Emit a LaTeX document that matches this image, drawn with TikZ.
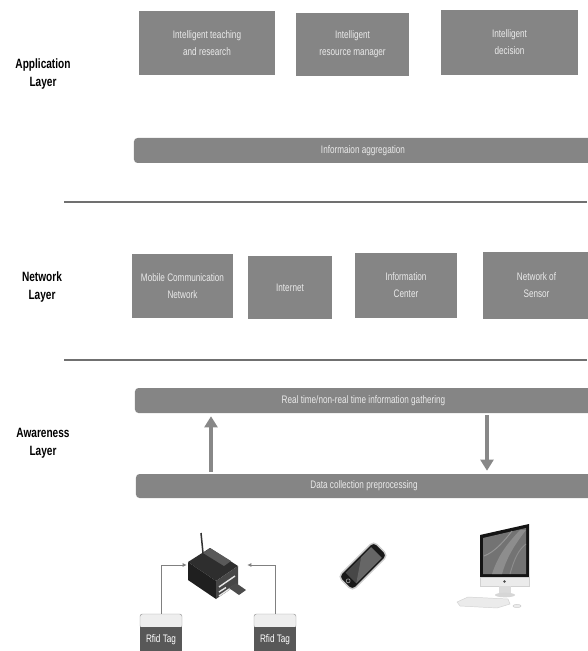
\documentclass[tikz,border=0pt]{standalone}
\usepackage{fontspec}
\setmainfont{Liberation Sans}
\newfontfamily\narrowfont[FakeStretch=0.75]{Liberation Sans}
\usetikzlibrary{arrows.meta}

\definecolor{boxgray}{RGB}{133,133,133}
\definecolor{boxtext}{RGB}{234,234,234}
\definecolor{rulegray}{RGB}{112,112,112}
\definecolor{flowgray}{RGB}{136,136,136}
\definecolor{tagdark}{RGB}{88,88,88}
\definecolor{taglight}{RGB}{238,238,238}

\tikzstyle{Layer} = [align=center, font=\narrowfont\fontsize{11.5}{15}\selectfont\bfseries]
\tikzstyle{Box} = [rectangle, fill=boxgray, align=center, text=boxtext, inner sep=0pt, font=\narrowfont\fontsize{9.3}{14.5}\selectfont]
\tikzstyle{Bar} = [Box, rounded corners=3pt, minimum height=0.75cm]
\tikzstyle{sepline} = [draw=rulegray, line width=1.6pt]
\tikzstyle{Flow} = [draw=flowgray, line width=4.2pt, -{Triangle[width=11pt,length=9.5pt]}]
\tikzstyle{TagTop} = [rectangle, draw=gray!80, fill=taglight, rounded corners=2pt, minimum width=1.26cm, minimum height=0.42cm, inner sep=0pt]
\tikzstyle{Tag} = [rectangle, fill=tagdark, text=white, minimum width=1.26cm, minimum height=0.78cm, inner sep=0pt, font=\narrowfont\fontsize{9.3}{11}\selectfont]
\tikzstyle{feed} = [draw=gray, line width=0.8pt, -{Latex[length=3.5pt,width=3.5pt]}]

\begin{document}
\begin{tikzpicture}[x=0.03cm, y=-0.03cm]
	\useasboundingbox (0,0) rectangle (587,651);
	\node (app) at (43,74) [Layer] {Application\\Layer};
	\node (net) at (42,287) [Layer] {Network\\Layer};
	\node (aware) at (43,443) [Layer] {Awareness\\Layer};

	\node (teach) at (207,43) [Box, minimum width=4.08cm, minimum height=1.92cm] {Intelligent teaching\\and research};
	\node (resource) at (352.5,44.5) [Box, minimum width=3.39cm, minimum height=1.89cm] {Intelligent\\resource manager};
	\node (decision) at (509.5,42.5) [Box, minimum width=4.11cm, minimum height=1.95cm] {Intelligent\\decision};
	\node (aggr) at (363,150.5) [Bar, minimum width=13.74cm] {Informaion aggregation};

	\coordinate (sep1a) at (64,202);
	\coordinate (sep1b) at (587,202);
	\path[sepline] (sep1a) -- (sep1b);

	\node (mobile) at (182.5,286) [Box, minimum width=3.03cm, minimum height=1.92cm] {Mobile Communication\\Network};
	\node (internet) at (290,287.5) [Box, minimum width=2.52cm, minimum height=1.89cm] {Internet};
	\node (center) at (406,285.5) [Box, minimum width=3.06cm, minimum height=1.95cm] {Information\\Center};
	\node (sensor) at (536.5,285.5) [Box, minimum width=3.21cm, minimum height=2.01cm] {Network of\\Sensor};

	\coordinate (sep2a) at (64,360);
	\coordinate (sep2b) at (587,360);
	\path[sepline] (sep2a) -- (sep2b);

	\node (gather) at (363.5,400.5) [Bar, minimum width=13.71cm] {Real time/non-real time information gathering};
	\node (collect) at (364,486) [Bar, minimum width=13.68cm, minimum height=0.72cm] {Data collection preprocessing};
	\coordinate (upx) at (211,0);
	\coordinate (downx) at (487,0);
	\path[Flow, shorten <=0.06cm, shorten >=0.09cm] (collect.north -| upx) -- (gather.south -| upx);
	\path[Flow, shorten <=0.06cm, shorten >=0.09cm] (gather.south -| downx) -- (collect.north -| downx);

	\node (reader) at (217,565) [minimum width=1.8cm, minimum height=1.2cm, inner sep=0pt] {};
	\draw[line width=1.3pt, black!80] (203,553) -- (201,533);
	\fill[black!82] (188,562) -- (210,548) -- (238,566) -- (216,581) -- cycle;
	\fill[black!65] (203,553) -- (210,548) -- (231,561) -- (224,566) -- cycle;
	\fill[black!88] (188,562) -- (216,581) -- (216,599) -- (188,580) -- cycle;
	\fill[black!72] (216,581) -- (238,566) -- (238,584) -- (216,599) -- cycle;
	\draw[white!90!black, line width=1.2pt] (219,587) -- (235,576);
	\draw[white!90!black, line width=1.2pt] (219,592) -- (226,587.5);
	\draw[white!90!black, line width=1.2pt] (219,596) -- (233,586.5);
	\fill[black!70] (229,588) -- (236,583) -- (246,590) -- (239,595) -- cycle;

	\node (tag1top) at (161,621) [TagTop] {};
	\node (tag1) at (161,640) [Tag] {Rfid Tag};
	\node (tag2top) at (275,621) [TagTop] {};
	\node (tag2) at (275,640) [Tag] {Rfid Tag};
	\path[feed] (tag1top.north) |- (reader.west);
	\path[feed] (tag2top.north) |- (reader.east);

	\begin{scope}[shift={(363,566)}, rotate=45]
		\path[fill=black!90, draw=gray!40, line width=1.2pt, rounded corners=4pt] (-25,-10) rectangle (25,10);
		\path[fill=black!72] (-17,-7.5) rectangle (19,7.5);
		\fill[black!60] (-17,7.5) -- (5,-7.5) -- (19,-7.5) -- (19,7.5) -- cycle;
		\draw[gray!70, line width=0.5pt] (-21,0) circle (0.06cm);
	\end{scope}

	\node (imac) at (505,565) [minimum width=1.5cm, minimum height=2.4cm, inner sep=0pt] {};
	\fill[black!92] (480,535) -- (529,524) -- (529,577) -- (480,577) -- cycle;
	\fill[black!55] (483,538) -- (526,528) -- (526,574) -- (483,574) -- cycle;
	\fill[black!40, opacity=0.7] (492,574) .. controls (498,556) and (506,545) .. (520,530) -- (526,530) .. controls (512,548) and (506,560) .. (502,574) -- cycle;
	\draw[black!35, line width=0.8pt, opacity=0.7] (484,556) .. controls (495,552) and (505,540) .. (512,531);
	\draw[black!40, line width=0.8pt, opacity=0.7] (510,574) .. controls (514,560) and (518,550) .. (526,544);
	\path[fill=black!8, draw=black!18, line width=0.4pt] (480,577) rectangle (529,586);
	\fill[black!70] (504.5,581.5) circle (0.04cm);
	\path[fill=black!14] (499,586) rectangle (511,594);
	\path[fill=black!16] (505,595) ellipse (0.3cm and 0.07cm);
	\path[fill=black!8, draw=black!18, line width=0.4pt] (457,602) -- (468,597) -- (508,599) -- (510,604) -- (497,608) -- (460,606) -- cycle;
	\path[fill=black!8, draw=black!20, line width=0.4pt] (517,606) ellipse (0.12cm and 0.05cm);
\end{tikzpicture}
\end{document}
